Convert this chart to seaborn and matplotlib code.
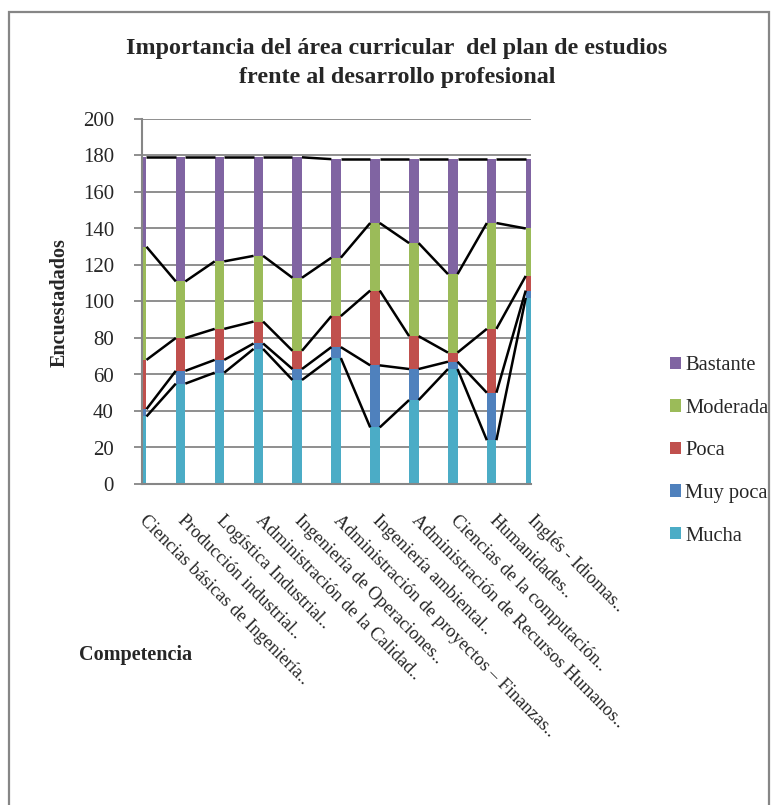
import numpy as np
import pandas as pd
import matplotlib
matplotlib.use("Agg")
import matplotlib.pyplot as plt
import seaborn as sns
from matplotlib.patches import Rectangle, Patch

categories = [
    "Ciencias básicas de Ingeniería..",
    "Producción industrial..",
    "Logística Industrial..",
    "Administración de la Calidad..",
    "Ingeniería de Operaciones..",
    "Administración de proyectos – Finanzas..",
    "Ingeniería ambiental..",
    "Administración de Recursos Humanos..",
    "Ciencias de la computación..",
    "Humanidades..",
    "Inglés - Idiomas..",
]
mucha = [37, 55, 61, 74, 57, 69, 31, 46, 63, 24, 102]
muy_poca = [4, 7, 7, 3, 6, 6, 34, 17, 4, 26, 4]
poca = [27, 18, 17, 12, 10, 17, 41, 18, 5, 35, 8]
moderada = [62, 31, 37, 36, 40, 32, 37, 51, 43, 58, 26]
bastante = [49, 68, 57, 54, 66, 54, 35, 46, 63, 35, 38]

series_names = ["Mucha", "Muy poca", "Poca", "Moderada", "Bastante"]
series_vals = [mucha, muy_poca, poca, moderada, bastante]
series_colors = ["#4BACC6", "#4F81BD", "#C0504D", "#9BBB59", "#8064A2"]

yticks = [0, 20, 40, 60, 80, 100, 120, 140, 160, 180, 200]

sns.set_style("white")
plt.rcParams["font.family"] = ["Liberation Serif", "DejaVu Serif"]

W, H = 778, 805
fig = plt.figure(figsize=(W / 100, H / 100), dpi=100)
ax = fig.add_axes([141.7 / W, 1 - 484 / H, (530.5 - 141.7) / W, (484 - 119) / H])

bar_w = 0.245
bottom = np.zeros(len(categories))
tops = []
for name, vals, col in zip(series_names, series_vals, series_colors):
    df = pd.DataFrame({"cat": categories, "val": vals})
    sns.barplot(data=df, x="cat", y="val", order=categories, color=col,
                width=bar_w, bottom=bottom.copy(), ax=ax, errorbar=None,
                saturation=1, linewidth=0, zorder=2)
    bottom = bottom + np.array(vals)
    tops.append(bottom.copy())

# series lines connecting segment tops
for top in tops:
    for i in range(len(categories) - 1):
        ax.plot([i + bar_w / 2, i + 1 - bar_w / 2], [top[i], top[i + 1]],
                color="black", lw=1.8, zorder=3, solid_capstyle="butt")

ax.set_xlim(0, len(categories) - 1)
ax.set_ylim(0, 200)
ax.set_yticks(yticks)
ax.set_yticklabels([str(t) for t in yticks], fontsize=15)
ax.yaxis.grid(True, color="#868686", lw=1.3, zorder=0)
ax.xaxis.grid(False)
ax.set_axisbelow(True)
for s in ["top", "right"]:
    ax.spines[s].set_visible(False)
for s in ["left", "bottom"]:
    ax.spines[s].set_color("#868686")
    ax.spines[s].set_linewidth(1.5)
ax.tick_params(axis="y", which="major", left=True, length=6, width=1.3,
               color="#868686", pad=14)
ax.tick_params(axis="x", bottom=False, pad=0)
ax.set_xlabel("")
ax.set_ylabel("")

ax.set_xticks(range(len(categories)))
ax.set_xticklabels(categories, rotation=-45, ha="left", va="center",
                   rotation_mode="anchor", fontsize=13.2)
for lbl in ax.get_xticklabels():
    lbl.set_y(-0.08)

fig.text(397 / W, 1 - 63 / H,
         "Importancia del área curricular  del plan de estudios\nfrente al desarrollo profesional",
         ha="center", va="center", fontsize=17.3, fontweight="bold", linespacing=1.45)
fig.text(60 / W, 1 - 303 / H, "Encuestadados", rotation=90, ha="center", va="center",
         fontsize=14.5, fontweight="bold")
fig.text(136 / W, 1 - 655 / H, "Competencia", ha="center", va="center",
         fontsize=14.5, fontweight="bold")

handles = [Patch(facecolor=c, edgecolor="none") for c in series_colors][::-1]
labels = series_names[::-1]
fig.legend(handles, labels, loc="upper left", bbox_to_anchor=(670 / W, 1 - 356 / H),
           frameon=False, fontsize=14.8, handlelength=0.55, handleheight=0.55,
           handletextpad=0.2, labelspacing=1.15, borderpad=0, borderaxespad=0)

fig.patches.append(Rectangle((9 / W, -0.02), (769 - 9) / W, 1 - 12 / H + 0.02,
                             transform=fig.transFigure, fill=False,
                             edgecolor="#868686", lw=1.6))

fig.savefig("out.png", dpi=100)
